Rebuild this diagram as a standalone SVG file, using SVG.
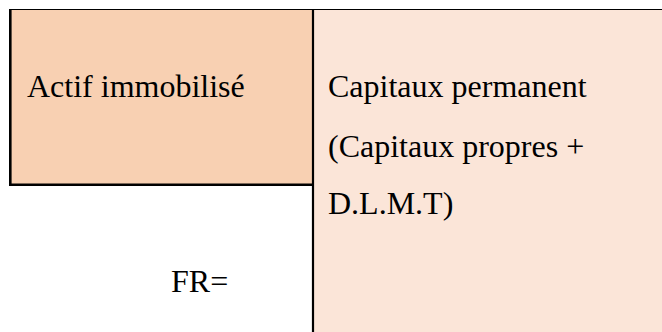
<svg xmlns="http://www.w3.org/2000/svg" width="662" height="332" viewBox="0 0 662 332">
  <style>
    .txt { font-family: "Liberation Serif", "Times New Roman", serif; font-size: 32px; fill: #000; }
    .rule { stroke: #000; fill: none; }
  </style>
  <rect x="0" y="0" width="662" height="332" fill="#ffffff"/>
  <!-- assets: fixed assets -->
  <g id="actif">
    <rect x="11" y="10" width="302" height="174" fill="#F8D0B2"/>
    <text class="txt" x="27" y="97">Actif immobilisé</text>
  </g>
  <!-- liabilities: permanent capital -->
  <g id="capitaux">
    <rect x="313" y="10" width="349" height="322" fill="#FBE5D8"/>
    <text class="txt" x="328" y="97">Capitaux permanent</text>
    <text class="txt" x="328" y="157">(Capitaux propres +</text>
    <text class="txt" x="328" y="214">D.L.M.T)</text>
  </g>
  <g id="fr">
    <text class="txt" x="171" y="292">FR=</text>
  </g>
  <!-- table rules -->
  <g id="connectors">
    <line class="rule" x1="9" y1="9.5" x2="662" y2="9.5" stroke-width="1.2"/>
    <line class="rule" x1="10.3" y1="9" x2="10.3" y2="186" stroke-width="2.6"/>
    <line class="rule" x1="9" y1="184.7" x2="313" y2="184.7" stroke-width="2.6"/>
    <line class="rule" x1="313" y1="9" x2="313" y2="332" stroke-width="2.2"/>
  </g>
</svg>
